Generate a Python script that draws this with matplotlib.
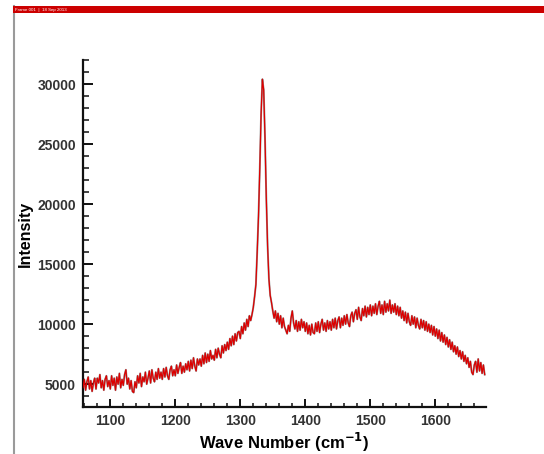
import numpy as np
import matplotlib
matplotlib.use("Agg")
import matplotlib.pyplot as plt
from matplotlib.ticker import MultipleLocator
from matplotlib.patches import Rectangle
from matplotlib.lines import Line2D

plt.rcParams['font.family'] = ['Liberation Sans', 'DejaVu Sans']

# Wave numbers (cm^-1), sampled every 2 cm^-1
wavenumber = np.arange(1058, 1678, 2)

# Intensity, 10 values per row (20 cm^-1 per row)
intensity = [
    4700, 5400, 4500, 5200, 5600, 4600, 5300, 4400, 5100, 5500,   # 1058-1076
    4600, 5500, 5100, 5800, 4700, 5300, 4500, 5400, 5700, 4800,   # 1078-1096
    5300, 4600, 5700, 4900, 5500, 4500, 5600, 5000, 5900, 4700,   # 1098-1116
    5400, 4900, 5800, 6200, 5000, 5500, 4600, 5300, 4400, 4300,   # 1118-1136
    5200, 4700, 5700, 5100, 5900, 4800, 5600, 5200, 6000, 5000,   # 1138-1156
    5500, 6100, 5100, 6200, 5500, 5200, 6000, 5400, 6300, 5500,   # 1158-1176
    6000, 5400, 6300, 5600, 6400, 5700, 5400, 6200, 6500, 5700,   # 1178-1196
    6200, 5700, 6600, 5900, 6400, 6800, 5900, 6500, 6000, 6700,   # 1198-1216
    6200, 6900, 6100, 7000, 6300, 7200, 6500, 6100, 7100, 6600,   # 1218-1236
    7100, 6500, 7400, 6700, 7600, 6800, 7500, 6900, 7800, 7100,   # 1238-1256
    7400, 7000, 7900, 7200, 8000, 7500, 7200, 8200, 7600, 8300,   # 1258-1276
    7800, 8500, 7900, 8800, 8200, 9000, 8300, 9200, 8600, 9300,   # 1278-1296
    9400, 8800, 9800, 9200, 10100, 9500, 10400, 9800, 10700, 10300,  # 1298-1316
    10800, 11400, 12300, 13300, 16000, 19000, 23000, 27500, 30400, 29500,  # 1318-1336
    25500, 20500, 16500, 13800, 12400, 11800, 11100, 10500, 11100, 10200,  # 1338-1356
    10900, 10000, 10700, 9700, 10500, 9800, 9500, 9200, 9900, 9400,    # 1358-1376
    10500, 11100, 10100, 9600, 10300, 9400, 10200, 9500, 10400, 9700,  # 1378-1396
    10200, 9400, 10100, 9200, 9900, 9100, 10000, 9300, 9200, 10100,    # 1398-1416
    9400, 10200, 9300, 10000, 10400, 9500, 10100, 9400, 10300, 9600,   # 1418-1436
    10200, 9500, 10400, 9700, 10500, 9600, 10300, 10600, 9700, 10500,  # 1438-1456
    9900, 10700, 10000, 10800, 10100, 9800, 10700, 11000, 10200, 10900,   # 1458-1476
    11200, 10400, 11400, 10600, 10300, 11300, 10700, 11500, 10600, 11400,  # 1478-1496
    10800, 11600, 10700, 11500, 10900, 11700, 10800, 11500, 11900, 10900,  # 1498-1516
    11600, 10800, 11900, 11000, 11700, 11100, 12000, 10900, 11600, 11000,  # 1518-1536
    11700, 10800, 11500, 10700, 11400, 10500, 11100, 10300, 11000, 10100,  # 1538-1556
    10900, 10200, 9900, 10700, 10000, 10600, 9700, 10500, 9900, 9600,     # 1558-1576
    10400, 9700, 10300, 9500, 10200, 9400, 10000, 9300, 9900, 9100,       # 1578-1596
    9800, 9000, 9600, 8800, 9500, 8600, 9300, 8500, 9100, 8300,           # 1598-1616
    8900, 8100, 8700, 7900, 8500, 7700, 8200, 7500, 8100, 7300,           # 1618-1636
    7800, 7100, 7700, 6900, 7400, 6700, 7200, 6400, 6900, 6000,           # 1638-1656
    5800, 6600, 6900, 6000, 7100, 6100, 6800, 5900, 6600, 5800,           # 1658-1676
]

x_ticks = [1100, 1200, 1300, 1400, 1500, 1600]
y_ticks = [5000, 10000, 15000, 20000, 25000, 30000]
header_text = "Frame 001  |  18 Sep 2013"

fig = plt.figure(figsize=(5.44, 4.54), dpi=100)
fig.patch.set_facecolor('white')

# window decorations
fig.patches.append(Rectangle((13 / 544, 1 - 13 / 454), 1 - 13 / 544, 7 / 454,
                             transform=fig.transFigure, facecolor='#cc0000',
                             edgecolor='none', zorder=5))
fig.lines.append(Line2D([13.5 / 544, 13.5 / 544], [0, 1 - 6 / 454],
                        transform=fig.transFigure, color='#9a9a9a', lw=1.5))
fig.text(15 / 544, 1 - 9.8 / 454, header_text, fontsize=3.2, color='white',
         va='center', ha='left', zorder=6)

ax = fig.add_axes([83 / 544, (454 - 407) / 454, (486 - 83) / 544, (407 - 60) / 454])
ax.plot(wavenumber, intensity, color='#333333', lw=1.4, alpha=0.5, zorder=2)
ax.plot(wavenumber, intensity, color='#dd0000', lw=0.9, zorder=3)

ax.set_xlim(1058, 1678)
ax.set_ylim(3100, 32000)
ax.set_xticks(x_ticks)
ax.set_yticks(y_ticks)
ax.xaxis.set_minor_locator(MultipleLocator(20))
ax.yaxis.set_minor_locator(MultipleLocator(1000))

for s in ['top', 'right']:
    ax.spines[s].set_visible(False)
for s in ['left', 'bottom']:
    ax.spines[s].set_linewidth(1.6)
    ax.spines[s].set_color('#111111')

ax.tick_params(axis='y', which='major', direction='in', length=7, width=1.4,
               labelsize=10, pad=5, colors='#111111', labelcolor='#333333')
ax.tick_params(axis='y', which='minor', direction='in', length=4, width=1.1,
               colors='#111111')
ax.tick_params(axis='x', which='major', direction='in', length=5.5, width=1.4,
               labelsize=10, pad=5, colors='#111111', labelcolor='#333333')
ax.tick_params(axis='x', which='minor', direction='in', length=3, width=1.1,
               colors='#111111')
for lab in ax.get_xticklabels() + ax.get_yticklabels():
    lab.set_fontweight('bold')

ax.set_xlabel('Wave Number (cm$^{\\mathbf{-1}}$)', fontsize=12, fontweight='bold',
              labelpad=2)
ax.set_ylabel('Intensity', fontsize=11.5, fontweight='bold', labelpad=3)

fig.savefig('out.png', dpi=100, facecolor='white')
